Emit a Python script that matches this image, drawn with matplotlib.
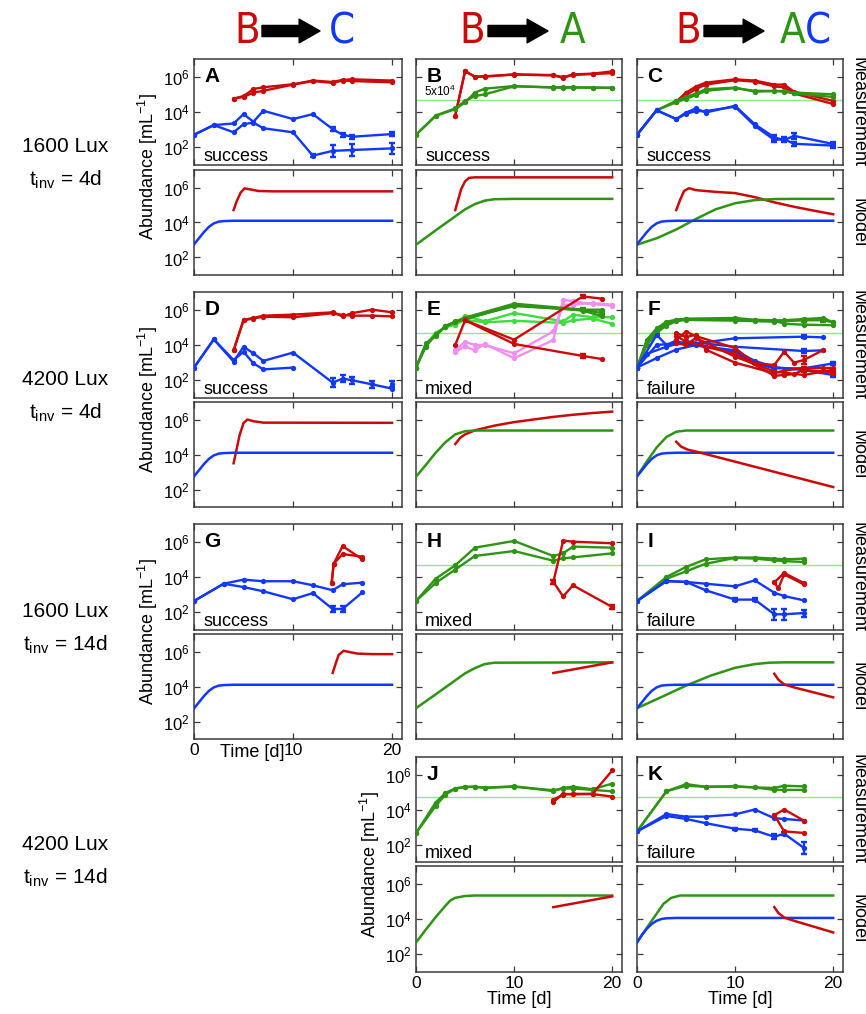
#!/usr/bin/env python3
import matplotlib as mpl

mpl.use("Agg")
import matplotlib.pyplot as plt
import matplotlib.patches as mpatches
from matplotlib.ticker import NullLocator

W, H = 866, 1014

RED = "#CC0A0A"
BLUE = "#1238FF"
GREEN = "#2E9514"
LGREEN = "#3FDC3F"
PINK = "#F28EF0"
THRESH = "#86EE86"
FRAME = "#3A3A3A"
COLORS = {"B": RED, "C": BLUE, "A": GREEN, "A*": LGREEN, "B*": PINK}

# ---- data: (species, days, log10 abundance, log10 error half-width or None)
A_MEAS = [
    ("B", [4, 5, 6, 7, 10, 12, 14, 15, 16, 20], [4.76, 4.9, 5.3, 5.4, 5.57, 5.78, 5.7, 5.82, 5.85, 5.78], None),
    ("B", [4, 5, 6, 7, 10, 12, 14, 15, 16, 20], [4.76, 4.85, 5.1, 5.2, 5.55, 5.75, 5.65, 5.78, 5.75, 5.68], None),
    ("C", [0, 2, 4, 5, 6, 7, 10, 12, 14, 15, 16, 20], [2.71, 3.26, 3.35, 3.88, 3.45, 4.07, 3.6, 3.88, 3.03, 2.71, 2.6, 2.75],
     [0, 0, 0, 0, 0, 0, 0, 0, 0.1, 0.1, 0.1, 0.1]),
    ("C", [0, 2, 4, 5, 6, 7, 10, 12, 14, 16, 20], [2.71, 3.26, 2.85, 3.31, 3.4, 3.08, 2.85, 1.53, 1.8, 1.85, 1.94],
     [0, 0, 0, 0, 0, 0, 0, 0.1, 0.35, 0.35, 0.3]),
]
A_MODEL = [
    ("B", [4, 4.3, 4.7, 5.1, 5.6, 6.5, 8, 20], [4.71, 5.2, 5.7, 5.95, 5.9, 5.8, 5.78, 5.78]),
    ("C", [0, 0.5, 1, 1.5, 2, 2.5, 3, 4, 20], [2.75, 3.1, 3.45, 3.75, 3.95, 4.05, 4.08, 4.1, 4.1]),
]

B_MEAS = [
    ("B", [4, 5, 6, 7, 10, 14, 15, 16, 18, 20], [3.78, 6.32, 6.0, 6.0, 6.13, 6.09, 5.92, 6.13, 6.17, 6.3], None),
    ("B", [4, 5, 6, 7, 10, 14, 15, 16, 18, 20], [3.8, 6.3, 6.0, 6.02, 6.12, 6.07, 5.98, 6.1, 6.15, 6.2], None),
    ("A", [0, 2, 4, 5, 6, 7, 10, 14, 15, 16, 18, 20], [2.71, 3.78, 4.16, 4.54, 5.1, 5.32, 5.47, 5.38, 5.38, 5.38, 5.38, 5.38], None),
    ("A", [0, 2, 4, 5, 6, 7, 10, 14, 15, 16, 18, 20], [2.71, 3.8, 4.2, 4.63, 4.9, 5.0, 5.45, 5.4, 5.4, 5.4, 5.38, 5.36], None),
]
B_MODEL = [
    ("B", [4, 4.3, 4.6, 5, 5.4, 6, 20], [4.71, 5.3, 5.9, 6.35, 6.55, 6.58, 6.58]),
    ("A", [0, 2, 4, 5, 6, 7, 8, 10, 20], [2.73, 3.55, 4.35, 4.75, 5.05, 5.25, 5.33, 5.35, 5.35]),
]

C_MEAS = [
    ("B", [4, 5, 6, 7, 10, 12, 14, 15, 16, 20], [4.59, 5.1, 5.44, 5.66, 5.85, 5.78, 5.55, 5.55, 5.15, 4.63], None),
    ("B", [4, 5, 6, 7, 10, 12, 14, 15, 16, 20], [4.6, 4.95, 5.3, 5.55, 5.8, 5.72, 5.45, 5.4, 5.05, 4.45], None),
    ("A", [0, 2, 4, 5, 6, 7, 10, 12, 14, 15, 16, 20], [2.71, 4.1, 4.63, 4.85, 5.04, 5.29, 5.38, 5.15, 5.19, 5.19, 5.1, 5.0], None),
    ("A", [0, 2, 4, 5, 6, 7, 10, 12, 14, 15, 16, 20], [2.71, 4.1, 4.55, 4.75, 4.95, 5.2, 5.35, 5.2, 5.19, 5.15, 5.05, 4.85], None),
    ("C", [0, 2, 4, 5, 6, 7, 10, 12, 14, 15, 16, 20], [2.71, 4.1, 3.6, 3.97, 4.2, 3.97, 4.35, 3.31, 2.56, 2.41, 2.65, 2.19],
     [0, 0, 0, 0, 0, 0, 0, 0, 0.12, 0.12, 0.15, 0.12]),
    ("C", [0, 2, 4, 5, 6, 7, 10, 12, 14, 15, 16, 20], [2.71, 4.1, 3.6, 3.9, 4.05, 4.05, 4.3, 3.22, 2.42, 2.46, 2.2, 2.1],
     [0, 0, 0, 0, 0, 0, 0, 0, 0.1, 0.1, 0.1, 0.12]),
]
C_MODEL = [
    ("B", [4, 4.4, 4.8, 5.3, 6, 8, 10, 12, 14, 16, 18, 20], [4.71, 5.3, 5.8, 5.96, 5.85, 5.75, 5.68, 5.45, 5.15, 4.9, 4.68, 4.47]),
    ("A", [0, 2, 4, 6, 8, 10, 12, 14, 16, 20], [2.73, 3.1, 3.6, 4.2, 4.75, 5.1, 5.28, 5.34, 5.35, 5.35]),
    ("C", [0, 0.5, 1, 1.5, 2, 2.5, 3, 4, 20], [2.75, 3.1, 3.45, 3.75, 3.95, 4.05, 4.08, 4.1, 4.1]),
]

D_MEAS = [
    ("B", [4, 5, 6, 7, 10, 14, 15, 16, 18, 20], [3.7, 5.43, 5.53, 5.66, 5.72, 5.85, 5.62, 5.81, 6.0, 5.85], None),
    ("B", [4, 5, 6, 7, 10, 14, 15, 16, 18, 20], [3.7, 5.4, 5.5, 5.6, 5.57, 5.8, 5.7, 5.66, 5.66, 5.62], None),
    ("C", [0, 2, 4, 5, 6, 7, 10, 14, 15, 16, 18, 20], [2.72, 4.32, 3.06, 3.9, 3.53, 3.1, 3.57, 1.87, 2.1, 2.0, 1.77, 1.53],
     [0, 0, 0, 0, 0, 0, 0, 0.25, 0.2, 0.2, 0.2, 0]),
    ("C", [0, 2, 4, 5, 6, 7, 10], [2.72, 4.32, 3.15, 3.62, 2.96, 2.62, 2.72], None),
    ("C", [20], [1.8], [0.15]),
]
D_MODEL = [
    ("B", [4, 4.3, 4.6, 5, 5.4, 6, 7, 20], [3.5, 4.3, 5.1, 5.8, 6.0, 5.9, 5.82, 5.81]),
    ("C", [0, 0.5, 1, 1.5, 2, 2.5, 3, 4, 20], [2.75, 3.1, 3.45, 3.75, 3.95, 4.05, 4.08, 4.1, 4.1]),
]

E_MEAS = [
    ("A*", [0, 1, 2, 3, 4, 5, 7, 10, 15, 16, 18, 20], [2.72, 4.0, 4.7, 5.0, 5.15, 5.66, 5.34, 5.81, 5.34, 5.72, 5.57, 5.57], None),
    ("A*", [4, 5, 7, 10, 15, 16, 18, 20], [5.15, 5.43, 5.28, 5.37, 5.25, 5.4, 5.5, 5.2], None),
    ("B*", [4, 5, 6, 7, 10, 14, 15, 16, 18, 20], [3.6, 3.92, 3.7, 4.06, 3.25, 4.28, 6.57, 6.47, 6.32, 6.23], None),
    ("B*", [4, 5, 6, 7, 10, 14, 15, 16, 18, 20], [3.7, 4.19, 4.0, 4.0, 3.53, 4.77, 6.28, 6.28, 6.38, 6.28], None),
    ("A", [0, 1, 2, 3, 4, 5, 10, 17, 19], [2.72, 4.09, 4.5, 5.1, 5.3, 5.55, 6.34, 6.0, 6.0], None),
    ("A", [0, 1, 2, 3, 4, 5, 10, 17, 19], [2.72, 3.9, 4.6, 5.0, 5.35, 5.5, 6.2, 6.0, 5.8], [0, 0, 0, 0, 0, 0, 0, 0.1, 0.1]),
    ("A", [0, 1, 2, 3, 4, 5, 10, 17, 19], [2.72, 4.0, 4.55, 5.05, 5.3, 5.45, 6.25, 5.95, 5.62], None),
    ("B", [4, 5, 10, 17, 19], [4.0, 5.4, 4.3, 6.75, 6.62], [0, 0, 0, 0.1, 0]),
    ("B", [5, 10, 17, 19], [5.4, 4.06, 3.38, 3.2], [0, 0, 0.1, 0]),
]
E_MODEL = [
    ("B", [4, 4.5, 5, 6, 8, 10, 12, 14, 16, 18, 20], [4.6, 4.95, 5.15, 5.38, 5.65, 5.85, 6.0, 6.15, 6.27, 6.37, 6.45]),
    ("A", [0, 1, 2, 3, 4, 5, 6, 20], [2.73, 3.4, 4.1, 4.7, 5.15, 5.33, 5.37, 5.37]),
]

F_MEAS = [
    ("A", [0, 1, 2, 3, 4, 5, 10, 12, 14, 15, 17, 19, 20], [2.72, 4.3, 4.94, 5.32, 5.43, 5.49, 5.53, 5.43, 5.4, 5.4, 5.47, 5.53, 5.28], None),
    ("A", [0, 1, 2, 3, 4, 5, 10, 12, 14, 15, 17, 20], [2.72, 4.2, 4.8, 5.25, 5.4, 5.45, 5.45, 5.4, 5.38, 5.2, 5.15, 5.12], None),
    ("A", [0, 1, 2, 3, 4, 5, 10, 12, 14, 17, 19, 20], [2.72, 4.0, 4.7, 5.1, 5.35, 5.42, 5.38, 5.35, 5.32, 5.4, 5.4, 5.28],
     [0, 0, 0, 0, 0, 0, 0, 0, 0, 0.08, 0.08, 0]),
    ("C", [0, 2, 3, 4, 5, 10, 17, 19], [2.72, 4.57, 4.0, 4.25, 4.0, 4.38, 4.47, 4.43], [0, 0, 0, 0, 0, 0, 0.1, 0]),
    ("C", [0, 2, 4, 6, 10, 12, 14, 17, 20], [2.72, 3.26, 3.74, 4.0, 3.62, 2.96, 2.68, 2.68, 2.96], [0, 0, 0, 0, 0, 0, 0.1, 0, 0.1]),
    ("C", [0, 2, 4, 7, 10, 12, 14, 17, 20], [2.72, 4.0, 4.1, 3.9, 3.7, 3.1, 2.75, 2.58, 2.3], [0, 0, 0, 0, 0, 0, 0, 0, 0.12]),
    ("C", [0, 1, 3, 5, 10, 17, 19], [2.72, 3.5, 3.9, 4.2, 3.9, 3.66, 3.7], [0, 0, 0, 0, 0, 0.1, 0]),
    ("B", [4, 5, 6, 7, 10, 14, 15, 17, 19, 20], [4.68, 4.45, 4.58, 3.74, 3.0, 2.4, 2.55, 2.7, 2.7, 2.7], [0, 0, 0, 0, 0, 0.12, 0, 0, 0, 0]),
    ("B", [4, 5, 6, 10, 12, 14, 15, 16, 17, 19], [4.3, 4.75, 4.5, 3.83, 2.96, 2.87, 3.62, 3.0, 3.15, 3.72], [0, 0, 0, 0, 0, 0, 0, 0, 0.2, 0]),
    ("B", [4, 5, 6, 10, 14, 17, 20], [4.1, 4.0, 4.4, 3.34, 2.5, 2.3, 2.6], None),
    ("B", [4, 5, 7, 10, 14, 15, 16, 17, 20], [4.5, 4.2, 3.9, 3.5, 2.26, 2.3, 2.35, 2.6, 2.45], [0, 0, 0, 0, 0, 0, 0, 0.15, 0.12]),
]
F_MODEL = [
    ("A", [0, 1, 2, 3, 4, 5, 20], [2.76, 3.6, 4.4, 5.0, 5.3, 5.37, 5.37]),
    ("C", [0, 0.5, 1, 1.5, 2, 2.5, 3, 4, 20], [2.75, 3.1, 3.45, 3.75, 3.95, 4.05, 4.08, 4.1, 4.1]),
    ("B", [4, 4.5, 5.2, 6, 20], [4.73, 4.45, 4.27, 4.17, 2.14]),
]

G_MEAS = [
    ("C", [0, 3, 5, 7, 10, 12, 14, 15, 17], [2.64, 3.62, 3.85, 3.76, 3.76, 3.53, 3.25, 3.59, 3.68], None),
    ("C", [0, 3, 5, 7, 10, 12, 14, 15, 17], [2.64, 3.62, 3.43, 3.19, 2.74, 3.09, 2.19, 2.19, 3.13], [0, 0, 0, 0, 0, 0, 0.15, 0.15, 0]),
    ("B", [13.9, 14.1, 15, 17], [3.66, 4.75, 5.75, 5.0], None),
    ("B", [13.9, 14.1, 15, 17], [3.66, 4.75, 5.3, 5.15], None),
]
G_MODEL = [
    ("B", [14, 14.3, 14.6, 15.1, 15.6, 16.5, 18, 20], [4.78, 5.3, 5.8, 6.04, 5.98, 5.88, 5.85, 5.85]),
    ("C", [0, 0.5, 1, 1.5, 2, 2.5, 3, 4, 20], [2.75, 3.1, 3.45, 3.75, 3.95, 4.05, 4.08, 4.1, 4.1]),
]

H_MEAS = [
    ("A", [0, 2, 4, 6, 10, 14, 15, 16, 20], [2.64, 3.9, 4.66, 5.66, 6.04, 5.19, 5.34, 5.72, 5.66], None),
    ("A", [0, 2, 4, 6, 10, 14, 15, 16, 20], [2.64, 3.66, 4.42, 5.19, 5.47, 4.92, 5.06, 5.11, 5.34], None),
    ("B", [14, 15, 16, 20], [3.72, 6.06, 6.0, 5.91], None),
    ("B", [14, 15, 16, 20], [3.72, 2.9, 3.53, 2.3], [0.1, 0, 0, 0.12]),
]
H_MODEL = [
    ("A", [0, 2, 4, 5, 6, 7, 8, 20], [2.76, 3.55, 4.35, 4.75, 5.05, 5.28, 5.36, 5.38]),
    ("B", [14, 20], [4.77, 5.38]),
]

I_MEAS = [
    ("A", [0, 3, 5, 7, 10, 12, 14, 15, 17], [2.64, 4.0, 4.57, 5.0, 5.1, 5.1, 5.04, 5.0, 5.04], None),
    ("A", [0, 3, 5, 7, 10, 12, 14, 15, 17], [2.64, 3.9, 4.32, 4.75, 5.08, 5.04, 4.94, 4.9, 4.85], None),
    ("C", [0, 3, 5, 7, 10, 12, 14, 15, 17], [2.64, 3.77, 3.72, 3.62, 3.47, 3.81, 3.11, 2.92, 2.68], None),
    ("C", [0, 3, 5, 7, 10, 12, 14, 15, 17], [2.64, 3.77, 3.72, 3.25, 2.72, 2.72, 1.89, 1.89, 1.96],
     [0, 0, 0, 0, 0.08, 0.08, 0.3, 0.3, 0.2]),
    ("B", [14, 15, 17], [3.7, 4.23, 3.66], None),
    ("B", [14, 14.4, 15, 17], [3.7, 3.35, 4.15, 3.58], None),
]
I_MODEL = [
    ("A", [0, 2.5, 5, 7.5, 10, 12, 13.5, 15, 20], [2.76, 3.4, 4.05, 4.62, 5.07, 5.28, 5.36, 5.38, 5.38]),
    ("C", [0, 0.5, 1, 1.5, 2, 2.5, 3, 4, 20], [2.76, 3.1, 3.45, 3.75, 3.95, 4.05, 4.08, 4.1, 4.1]),
    ("B", [14, 14.4, 15, 16, 20], [4.73, 4.4, 4.12, 3.95, 3.38]),
]

J_MEAS = [
    ("A", [0, 2, 3, 4, 5, 6, 7, 10, 14, 15, 16, 18, 20], [2.65, 4.4, 4.95, 5.2, 5.3, 5.3, 5.24, 5.33, 5.05, 5.24, 5.3, 5.16, 5.48], None),
    ("A", [0, 2, 3, 4, 5, 6, 7, 10, 14, 15, 16, 18, 20], [2.65, 4.2, 4.85, 5.2, 5.28, 5.3, 5.24, 5.3, 5.1, 5.2, 5.2, 5.12, 5.04], None),
    ("B", [14, 15, 16, 18, 20], [4.43, 4.9, 4.86, 4.9, 6.23], None),
    ("B", [14, 15, 16, 18, 20], [4.56, 4.85, 4.9, 4.88, 4.74], None),
]
J_MODEL = [
    ("A", [0, 1, 2, 3, 3.5, 4, 5, 6, 20], [2.67, 3.4, 4.1, 4.75, 5.05, 5.2, 5.3, 5.33, 5.33]),
    ("B", [14, 20], [4.67, 5.28]),
]

K_MEAS = [
    ("A", [0, 3, 5, 7, 10, 12, 14, 15, 17], [2.75, 5.04, 5.45, 5.3, 5.32, 5.26, 5.23, 5.36, 5.32], None),
    ("A", [0, 3, 5, 7, 10, 12, 14, 15, 17], [2.75, 5.04, 5.36, 5.3, 5.32, 5.26, 5.12, 5.12, 5.12], None),
    ("C", [0, 3, 5, 7, 10, 12, 14, 15, 17], [2.75, 3.74, 3.59, 3.59, 3.72, 4.0, 3.5, 3.46, 3.37], None),
    ("C", [0, 3, 5, 7, 10, 12, 14, 15, 17], [2.75, 3.63, 3.46, 3.22, 2.9, 2.81, 2.44, 2.62, 1.81],
     [0, 0, 0, 0, 0.06, 0.06, 0.15, 0.1, 0.35]),
    ("B", [14, 15, 17], [3.68, 4.0, 3.37], None),
    ("B", [14, 15, 17], [3.68, 2.75, 2.66], None),
]
K_MODEL = [
    ("A", [0, 1, 2, 2.7, 3.5, 4.4, 20], [2.67, 3.5, 4.3, 4.86, 5.2, 5.33, 5.33]),
    ("C", [0, 0.5, 1, 1.5, 2, 2.5, 3, 4, 20], [2.67, 3.1, 3.45, 3.72, 3.9, 4.0, 4.04, 4.06, 4.06]),
    ("B", [14, 14.4, 15, 16, 20], [4.67, 4.35, 4.08, 3.9, 3.24]),
]

OUTCOME = {"A": "success", "B": "success", "C": "success", "D": "success", "E": "mixed", "F": "failure",
           "G": "success", "H": "mixed", "I": "failure", "J": "mixed", "K": "failure"}
THRESHOLD = 5e4
ROW_LABELS = [("1600 Lux", "4d"), ("4200 Lux", "4d"), ("1600 Lux", "14d"), ("4200 Lux", "14d")]

# ---- layout in pixels
COLS = [(194, 402), (416, 622), (637, 843)]
ROWS = [((59, 165), (170, 275)), ((292, 398), (402, 507)), ((524, 630), (634, 739)), ((757, 862), (866, 972))]
GRID = [
    [("A", A_MEAS, A_MODEL), ("B", B_MEAS, B_MODEL), ("C", C_MEAS, C_MODEL)],
    [("D", D_MEAS, D_MODEL), ("E", E_MEAS, E_MODEL), ("F", F_MEAS, F_MODEL)],
    [("G", G_MEAS, G_MODEL), ("H", H_MEAS, H_MODEL), ("I", I_MEAS, I_MODEL)],
    [None, ("J", J_MEAS, J_MODEL), ("K", K_MEAS, K_MODEL)],
]

mpl.rcParams.update({
    "font.family": ["Liberation Sans", "DejaVu Sans"],
    "mathtext.fontset": "custom",
    "mathtext.rm": "Liberation Sans",
    "mathtext.it": "Liberation Sans:italic",
    "mathtext.bf": "Liberation Sans:bold",
    "axes.linewidth": 1.1,
    "axes.edgecolor": FRAME,
})


def px_axes(fig, xs, ys):
    x0, x1 = xs
    y0, y1 = ys
    return fig.add_axes([x0 / W, 1 - y1 / H, (x1 - x0) / W, (y1 - y0) / H])


def style(ax, show_y, show_x):
    ax.set_yscale("log")
    ax.set_ylim(10, 1e7)
    ax.set_xlim(0, 21)
    ax.set_yticks([1e2, 1e4, 1e6])
    ax.set_xticks([0, 10, 20])
    ax.yaxis.set_minor_locator(NullLocator())
    ax.tick_params(direction="in", top=True, right=True, length=4, width=0.9, color=FRAME,
                   labelleft=show_y, labelbottom=show_x, labelsize=12.5, pad=3)
    ax.tick_params(axis="y", labelsize=12)


def draw_meas(ax, series):
    for sp, t, y, err in series:
        c = COLORS[sp]
        v = [10 ** a for a in y]
        ax.plot(t, v, "-o", color=c, lw=1.7, ms=3.8, mew=0, zorder=3)
        if err:
            tt = [ti for ti, e in zip(t, err) if e > 0]
            lo = [10 ** a - 10 ** (a - e) for a, e in zip(y, err) if e > 0]
            hi = [10 ** (a + e) - 10 ** a for a, e in zip(y, err) if e > 0]
            vv = [10 ** a for a, e in zip(y, err) if e > 0]
            ax.errorbar(tt, vv, yerr=[lo, hi], fmt="none", ecolor=c, elinewidth=1.7,
                        capsize=2.5, capthick=1.7, zorder=3)


def draw_model(ax, series):
    for sp, t, y in series:
        ax.plot(t, [10 ** a for a in y], "-", color=COLORS[sp], lw=1.8, zorder=3)


fig = plt.figure(figsize=(W / 100, H / 100), dpi=100)

for r, row in enumerate(GRID):
    (mt, mb), (dt, db) = ROWS[r]
    for c, cell in enumerate(row):
        if cell is None:
            continue
        key, meas, model = cell
        show_y = c == 0 or (r == 3 and c == 1)
        ax_m = px_axes(fig, COLS[c], (mt, mb))
        ax_d = px_axes(fig, COLS[c], (dt, db))
        style(ax_m, show_y, False)
        style(ax_d, show_y, (r == 2 and c == 0) or r == 3)
        if key not in ("A", "D", "G"):
            ax_m.axhline(THRESHOLD, color=THRESH, lw=1.0, zorder=2)
        draw_meas(ax_m, meas)
        draw_model(ax_d, model)
        ax_m.text(0.05, 0.925, key, transform=ax_m.transAxes, fontsize=15, fontweight="bold",
                  va="top", ha="left")
        ax_m.text(0.045, 0.0, OUTCOME[key], transform=ax_m.transAxes, fontsize=13,
                  va="bottom", ha="left")
        if key == "B":
            ax_m.text(0.04, 10 ** 4.71, r"5x10$^4$", transform=ax_m.get_yaxis_transform(),
                      fontsize=8.5, va="bottom", ha="left")
        if show_y:
            fig.text((COLS[c][0] - 46) / W, 1 - ((mt + db) / 2) / H, r"Abundance [mL$^{-1}$]",
                     rotation=90, ha="center", va="center", fontsize=13)
        if r == 2 and c == 0:
            ax_d.text(0.28, -0.125, "Time [d]", transform=ax_d.transAxes, fontsize=13,
                      ha="center", va="center")
        if r == 3:
            ax_d.set_xlabel("Time [d]", fontsize=13, labelpad=0)
        if c == 2:
            fig.text(858 / W, 1 - ((mt + mb) / 2) / H, "Measurement", rotation=270,
                     ha="center", va="center", fontsize=13)
            fig.text(858 / W, 1 - ((dt + db) / 2) / H, "Model", rotation=270,
                     ha="center", va="center", fontsize=13)
    lux, tinv = ROW_LABELS[r]
    yc = (mt + db) / 2
    fig.text(65 / W, 1 - (yc - 20) / H, lux, ha="center", va="center", fontsize=15)
    fig.text(65 / W, 1 - (yc + 13) / H, r"t$_{\mathrm{inv}}$ = " + tinv, ha="center", va="center", fontsize=15)

# ---- column headers
HEAD_Y = 1 - 31 / H
HEADERS = [
    [("B", 247), ("C", 342)],
    [("B", 472), ("A", 573)],
    [("B", 688), ("A", 793), ("C", 818)],
]
ARROWS = [(262, 320), (488, 548), (704, 764)]
for letters, (a0, a1) in zip(HEADERS, ARROWS):
    for sp, xp in letters:
        fig.text(xp / W, HEAD_Y, sp, color=COLORS[sp], fontsize=30, ha="center", va="center",
                 family="DejaVu Sans", fontstretch="condensed")
    fig.add_artist(mpatches.FancyArrowPatch(
        (a0 / W, HEAD_Y), (a1 / W, HEAD_Y), transform=fig.transFigure,
        arrowstyle="simple,head_length=0.75,head_width=0.85,tail_width=0.4",
        mutation_scale=20, color="black", shrinkA=0, shrinkB=0))

fig.savefig("out.png", dpi=100)
